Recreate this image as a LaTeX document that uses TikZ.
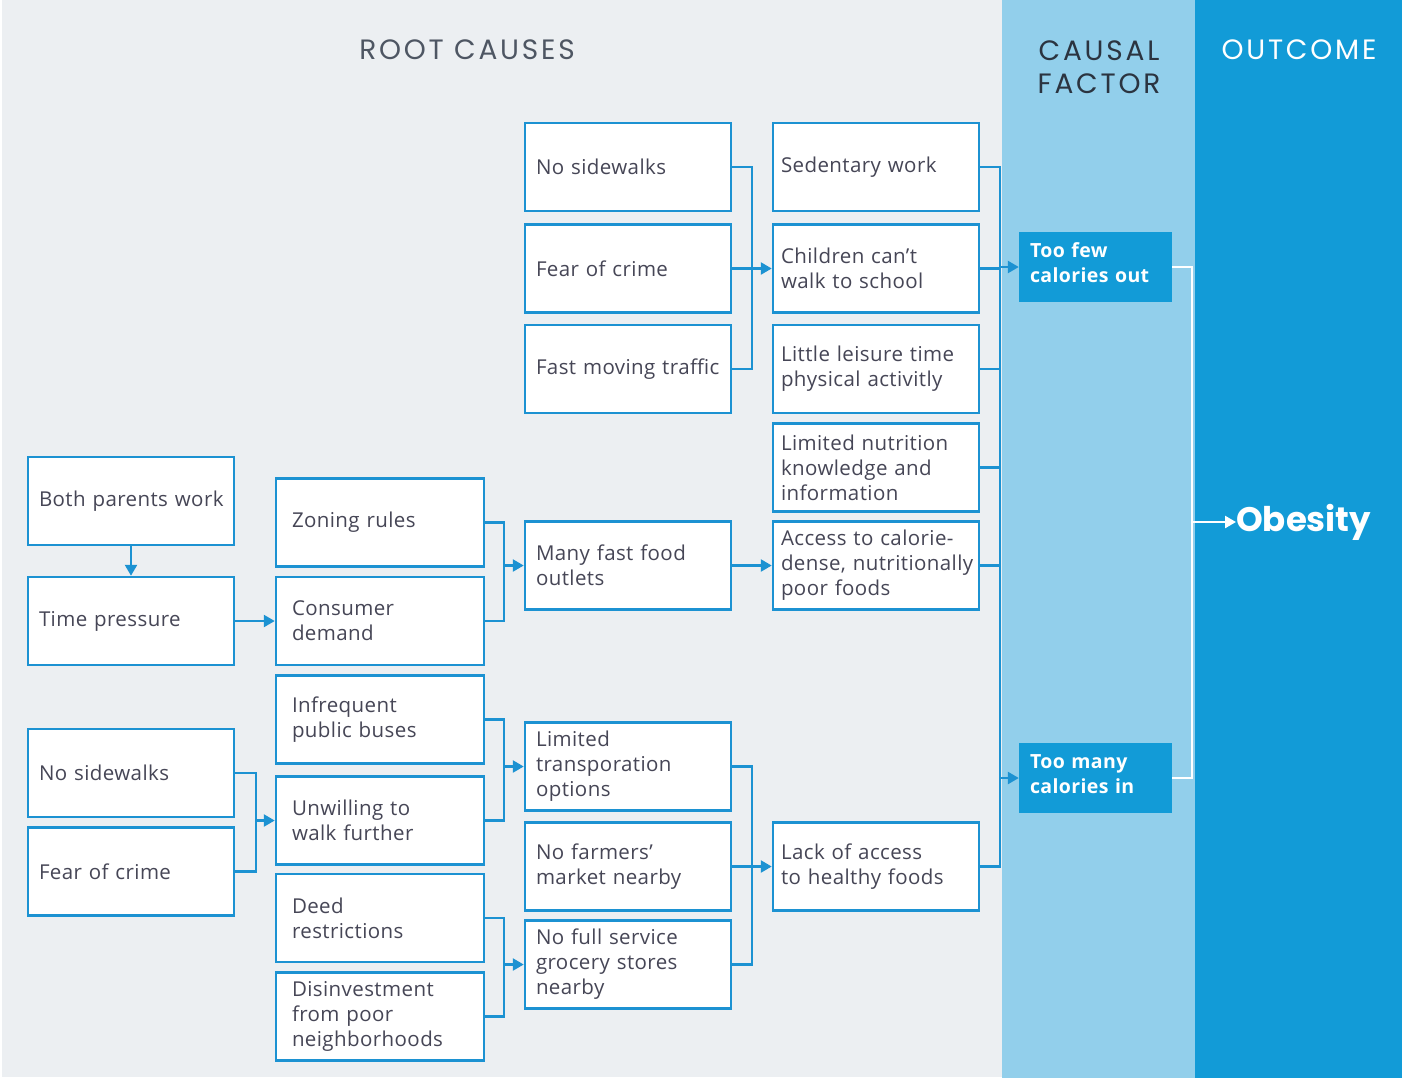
\documentclass[tikz,border=0pt]{standalone}
\usepackage{fontspec}
\setmainfont[LetterSpace=2]{Open Sans}
\newfontfamily\headfont[LetterSpace=10]{Poppins}
\newfontfamily\obfont{Poppins}
\usetikzlibrary{arrows.meta}
\definecolor{bggray}{HTML}{ECEFF2}
\definecolor{lightblue}{HTML}{92CFEB}
\definecolor{darkblue}{HTML}{129BD7}
\definecolor{lineblue}{HTML}{1C92D2}
\definecolor{bodytext}{HTML}{464656}
\definecolor{headgray}{HTML}{4E5663}
\definecolor{headdark}{HTML}{2B3440}
\hfuzz=200pt
\hbadness=10000
\begin{document}
\begin{tikzpicture}[x=1pt,y=-1pt,
  box/.style={draw=lineblue, line width=2.5pt, fill=white, minimum width=206pt,
    minimum height=88pt, align=left, text width=184pt, inner xsep=11pt, inner ysep=0pt,
    text=bodytext, font=\fontsize{20.5}{25}\selectfont},
  boxb/.style={box, text width=176pt, inner xsep=16pt},
  boxd/.style={box, text width=190pt, inner xsep=8pt},
  factor/.style={fill=darkblue, minimum width=153pt, minimum height=70pt, text width=131pt,
    inner xsep=11pt, inner ysep=0pt, align=left, text=white,
    font=\bfseries\fontsize{19.5}{25}\selectfont},
  conn/.style={draw=lineblue, line width=2.5pt},
  arr/.style={conn, -{Triangle[length=11pt,width=12pt]}},
  wconn/.style={draw=white, line width=2.5pt},
  warr/.style={wconn, -{Triangle[length=11pt,width=12pt]}},
  head/.style={font=\headfont\fontsize{28}{33}\selectfont, align=center}
]
\useasboundingbox (0,0) rectangle (1402,1080);
\fill[white] (0,0) rectangle (1402,1080);
\fill[bggray] (2,0) rectangle (1002,1077);
\fill[lightblue] (1002,0) rectangle (1195,1078);
\fill[darkblue] (1195,0) rectangle (1402,1078);

% headings
\node[head, text=headgray] (hroot) at (467,50) {ROOT CAUSES};
\node[head, text=headdark] (hcausal) at (1099,67) {CAUSAL\\FACTOR};
\node[head, text=white] (hout) at (1299,50) {OUTCOME};

% column A
\node[box] (bothparents) at (131,501) {\mbox{Both parents work}};
\node[box] (timepressure) at (131,621) {Time pressure};
\node[box] (nosidewalksA) at (131,773) {No sidewalks};
\node[box] (fearA) at (131,871.5) {Fear of crime};

% column B
\node[boxb] (zoning) at (380,522.5) {Zoning rules};
\node[boxb] (consumer) at (380,621) {Consumer\\demand};
\node[boxb] (buses) at (380,719.5) {Infrequent\\public buses};
\node[boxb] (unwilling) at (380,820.5) {Unwilling to\\walk further};
\node[boxb] (deed) at (380,918) {Deed\\restrictions};
\node[boxb] (disinvest) at (380,1016.5) {Disinvestment\\from poor\\neighborhoods};

% column C
\node[box] (nosidewalksC) at (628,167) {No sidewalks};
\node[box] (fearC) at (628,268.5) {Fear of crime};
\node[box] (traffic) at (628,369) {\mbox{Fast moving traffic}};
\node[box] (fastfood) at (628,565.5) {Many fast food\\outlets};
\node[box] (transp) at (628,766.5) {Limited\\transporation\\options};
\node[box] (farmers) at (628,866.5) {No farmers'\\market nearby};
\node[box] (grocery) at (628,964.5) {No full service\\grocery stores\\nearby};

% column D
\node[boxd] (sedentary) at (876,167) {Sedentary work};
\node[boxd] (children) at (876,268.5) {Children can't\\walk to school};
\node[boxd] (leisure) at (876,369) {\mbox{Little leisure time}\\\mbox{physical activitly}};
\node[boxd] (nutrition) at (876,467.5) {\mbox{Limited nutrition}\\knowledge and\\information};
\node[boxd] (access) at (876,565.5) {\mbox{Access to calorie-}\\\mbox{dense, nutritionally}\\poor foods};
\node[boxd] (lack) at (876,866.5) {Lack of access\\to healthy foods};

% causal factors
\node[factor] (toofew) at (1095.5,267) {\raisebox{4pt}[\height][\depth]{\parbox{131pt}{Too few\\calories out}}};
\node[factor] (toomany) at (1095.5,778) {\raisebox{4pt}[\height][\depth]{\parbox{131pt}{Too many\\calories in}}};

% outcome
\node[anchor=west, inner sep=0pt, text=white, font=\obfont\bfseries\fontsize{34}{40}\selectfont] (obesity) at (1236,522) {Obesity};

% bracket coordinates
\coordinate (xA) at (256,0);
\coordinate (xB) at (504,0);
\coordinate (xC) at (752,0);
\coordinate (xD) at (1000,0);
\coordinate (xW) at (1192,0);

% connectors
\draw[arr] (bothparents.south) -- (timepressure.north);
\draw[arr] (timepressure.east) -- (consumer.west |- timepressure.east);

\draw[conn] (zoning.east) -| (xB |- consumer.east) -- (consumer.east);
\draw[arr] (xB |- fastfood.west) -- (fastfood.west);
\draw[arr] (fastfood.east) -- (access.west |- fastfood.east);

\draw[conn] (nosidewalksC.east) -| (xC |- traffic.east) -- (traffic.east);
\draw[conn] (fearC.east) -- (xC |- fearC.east);
\draw[arr] (xC |- children.west) -- (children.west);

\draw[conn] (sedentary.east) -| (xD |- lack.east) -- (lack.east);
\draw[conn] (children.east) -- (xD |- children.east);
\draw[conn] (leisure.east) -- (xD |- leisure.east);
\draw[conn] (nutrition.east) -- (xD |- nutrition.east);
\draw[conn] (access.east) -- (xD |- access.east);
\draw[arr] (xD |- toofew.west) -- (toofew.west);
\draw[arr] (xD |- toomany.west) -- (toomany.west);

\draw[conn] (nosidewalksA.east) -| (xA |- fearA.east) -- (fearA.east);
\draw[arr] (xA |- unwilling.west) -- (unwilling.west);

\draw[conn] (buses.east) -| (xB |- unwilling.east) -- (unwilling.east);
\draw[arr] (xB |- transp.west) -- (transp.west);

\draw[conn] (deed.east) -| (xB |- disinvest.east) -- (disinvest.east);
\draw[arr] (xB |- grocery.west) -- (grocery.west);

\draw[conn] (transp.east) -| (xC |- grocery.east) -- (grocery.east);
\draw[conn] (farmers.east) -- (xC |- farmers.east);
\draw[arr] (xC |- lack.west) -- (lack.west);

\draw[wconn] (toofew.east) -| (xW |- toomany.east) -- (toomany.east);
\draw[warr] (xW |- obesity.west) -- (obesity.west);
\end{tikzpicture}
\end{document}
